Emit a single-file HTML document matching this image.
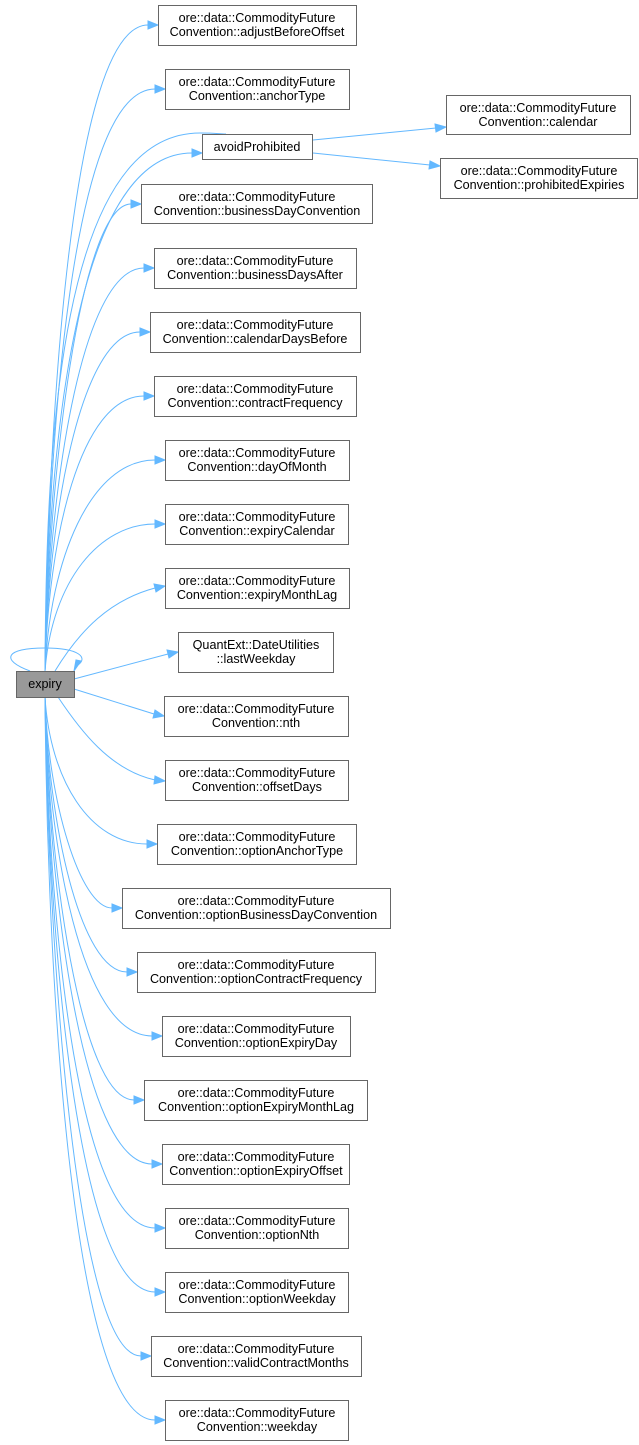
<!DOCTYPE html>
<html><head><meta charset="utf-8"><style>
html,body{margin:0;padding:0;background:#fff;}
svg{display:block;}
text{font-family:"Liberation Sans",sans-serif;font-size:12.6px;fill:#000;text-anchor:middle;}
.n{fill:#fff;stroke:#666;stroke-width:1;}
.e{fill:none;stroke:#63b8ff;stroke-width:1;}
.a{fill:#63b8ff;stroke:#63b8ff;}
</style></head><body>
<svg width="639" height="1445" viewBox="0 0 639 1445" xmlns="http://www.w3.org/2000/svg">
<g>
<path class="e" d="M45,671 C48,430 70,25 148,25"/><polygon class="a" points="148,21 158,25 148,29"/>
<path class="e" d="M45,671 C48,450 70,89 155,89"/><polygon class="a" points="155,85 165,89 155,93"/>
<path class="e" d="M45,671 C48,470 70,153 192,153"/><polygon class="a" points="192,149 202,153 192,157"/>
<path class="e" d="M45,671 C46,440 60,133 200,133 C215,133 222,134 226,134"/>
<path class="e" d="M45,671 C48,480 80,204 131,204"/><polygon class="a" points="131,200 141,204 131,208"/>
<path class="e" d="M45,671 C48,500 80,268 144,268"/><polygon class="a" points="144,264 154,268 144,272"/>
<path class="e" d="M45,671 C48,520 80,332 140,332"/><polygon class="a" points="140,328 150,332 140,336"/>
<path class="e" d="M45,671 C48,540 80,396 144,396"/><polygon class="a" points="144,392 154,396 144,400"/>
<path class="e" d="M45,671 C50,560 90,460 155,460"/><polygon class="a" points="155,456 165,460 155,464"/>
<path class="e" d="M45,671 C52,580 100,524 155,524"/><polygon class="a" points="155,520 165,524 155,528"/>
<path class="e" d="M55,671 C80,630 110,600 155,588"/><polygon class="a" points="154,584 165,586 156,592"/>
<path class="e" d="M74,679 L168,654"/><polygon class="a" points="167,650 178,652 169,658"/>
<path class="e" d="M74,689 L154,714"/><polygon class="a" points="155,710 164,716 153,718"/>
<path class="e" d="M58,697 C80,730 110,770 155,780"/><polygon class="a" points="155,776 165,781 154,784"/>
<path class="e" d="M45,697 C50,780 90,844 147,844"/><polygon class="a" points="147,840 157,844 147,848"/>
<path class="e" d="M45,697 C48,800 80,908 112,908"/><polygon class="a" points="112,904 122,908 112,912"/>
<path class="e" d="M45,697 C48,820 80,972 127,972"/><polygon class="a" points="127,968 137,972 127,976"/>
<path class="e" d="M45,697 C48,840 80,1036 152,1036"/><polygon class="a" points="152,1032 162,1036 152,1040"/>
<path class="e" d="M45,697 C48,860 80,1100 134,1100"/><polygon class="a" points="134,1096 144,1100 134,1104"/>
<path class="e" d="M45,697 C48,880 80,1164 152,1164"/><polygon class="a" points="152,1160 162,1164 152,1168"/>
<path class="e" d="M45,697 C48,900 75,1228 155,1228"/><polygon class="a" points="155,1224 165,1228 155,1232"/>
<path class="e" d="M45,697 C48,920 75,1292 155,1292"/><polygon class="a" points="155,1288 165,1292 155,1296"/>
<path class="e" d="M45,697 C48,940 75,1356 141,1356"/><polygon class="a" points="141,1352 151,1356 141,1360"/>
<path class="e" d="M45,697 C47,960 70,1420 155,1420"/><polygon class="a" points="155,1416 165,1420 155,1424"/>
<path class="e" d="M30,671 C0,660 5,648 45,648 C80,648 88,658 78,665"/><polygon class="a" points="81,661 74,671 76,660"/>
<path class="e" d="M313,140 L436,128"/><polygon class="a" points="435,124 446,127 436,132"/>
<path class="e" d="M313,153 L430,165"/><polygon class="a" points="430,161 440,166 429,169"/>
</g>
<rect x="16.5" y="671.5" width="58" height="26" fill="#999" stroke="#666"/>
<text x="45" y="688">expiry</text>
<rect class="n" x="158.5" y="5.5" width="198" height="40"/><text x="257" y="22">ore::data::CommodityFuture</text><text x="257" y="36">Convention::adjustBeforeOffset</text>
<rect class="n" x="165.5" y="69.5" width="184" height="40"/><text x="257" y="86">ore::data::CommodityFuture</text><text x="257" y="100">Convention::anchorType</text>
<rect class="n" x="202.5" y="134.5" width="110" height="25"/><text x="257" y="151">avoidProhibited</text>
<rect class="n" x="446.5" y="95.5" width="184" height="39"/><text x="538" y="112">ore::data::CommodityFuture</text><text x="538" y="126">Convention::calendar</text>
<rect class="n" x="440.5" y="158.5" width="197" height="40"/><text x="539" y="175">ore::data::CommodityFuture</text><text x="539" y="189">Convention::prohibitedExpiries</text>
<rect class="n" x="141.5" y="184.5" width="231" height="39"/><text x="257" y="201">ore::data::CommodityFuture</text><text x="257" y="215">Convention::businessDayConvention</text>
<rect class="n" x="154.5" y="248.5" width="202" height="40"/><text x="255" y="265">ore::data::CommodityFuture</text><text x="255" y="279">Convention::businessDaysAfter</text>
<rect class="n" x="150.5" y="312.5" width="210" height="40"/><text x="255" y="329">ore::data::CommodityFuture</text><text x="255" y="343">Convention::calendarDaysBefore</text>
<rect class="n" x="154.5" y="376.5" width="202" height="40"/><text x="255" y="393">ore::data::CommodityFuture</text><text x="255" y="407">Convention::contractFrequency</text>
<rect class="n" x="165.5" y="440.5" width="184" height="40"/><text x="257" y="457">ore::data::CommodityFuture</text><text x="257" y="471">Convention::dayOfMonth</text>
<rect class="n" x="165.5" y="504.5" width="183" height="40"/><text x="257" y="521">ore::data::CommodityFuture</text><text x="257" y="535">Convention::expiryCalendar</text>
<rect class="n" x="165.5" y="568.5" width="184" height="40"/><text x="257" y="585">ore::data::CommodityFuture</text><text x="257" y="599">Convention::expiryMonthLag</text>
<rect class="n" x="178.5" y="632.5" width="155" height="40"/><text x="256" y="649">QuantExt::DateUtilities</text><text x="256" y="663">::lastWeekday</text>
<rect class="n" x="164.5" y="696.5" width="184" height="40"/><text x="256" y="713">ore::data::CommodityFuture</text><text x="256" y="727">Convention::nth</text>
<rect class="n" x="165.5" y="760.5" width="183" height="40"/><text x="257" y="777">ore::data::CommodityFuture</text><text x="257" y="791">Convention::offsetDays</text>
<rect class="n" x="157.5" y="824.5" width="199" height="40"/><text x="257" y="841">ore::data::CommodityFuture</text><text x="257" y="855">Convention::optionAnchorType</text>
<rect class="n" x="122.5" y="888.5" width="268" height="40"/><text x="256" y="905">ore::data::CommodityFuture</text><text x="256" y="919">Convention::optionBusinessDayConvention</text>
<rect class="n" x="137.5" y="952.5" width="238" height="40"/><text x="256" y="969">ore::data::CommodityFuture</text><text x="256" y="983">Convention::optionContractFrequency</text>
<rect class="n" x="162.5" y="1016.5" width="188" height="40"/><text x="256" y="1033">ore::data::CommodityFuture</text><text x="256" y="1047">Convention::optionExpiryDay</text>
<rect class="n" x="144.5" y="1080.5" width="223" height="40"/><text x="256" y="1097">ore::data::CommodityFuture</text><text x="256" y="1111">Convention::optionExpiryMonthLag</text>
<rect class="n" x="162.5" y="1144.5" width="187" height="40"/><text x="256" y="1161">ore::data::CommodityFuture</text><text x="256" y="1175">Convention::optionExpiryOffset</text>
<rect class="n" x="165.5" y="1208.5" width="183" height="40"/><text x="257" y="1225">ore::data::CommodityFuture</text><text x="257" y="1239">Convention::optionNth</text>
<rect class="n" x="165.5" y="1272.5" width="183" height="40"/><text x="257" y="1289">ore::data::CommodityFuture</text><text x="257" y="1303">Convention::optionWeekday</text>
<rect class="n" x="151.5" y="1336.5" width="210" height="40"/><text x="256" y="1353">ore::data::CommodityFuture</text><text x="256" y="1367">Convention::validContractMonths</text>
<rect class="n" x="165.5" y="1400.5" width="183" height="40"/><text x="257" y="1417">ore::data::CommodityFuture</text><text x="257" y="1431">Convention::weekday</text>
</svg>
</body></html>
